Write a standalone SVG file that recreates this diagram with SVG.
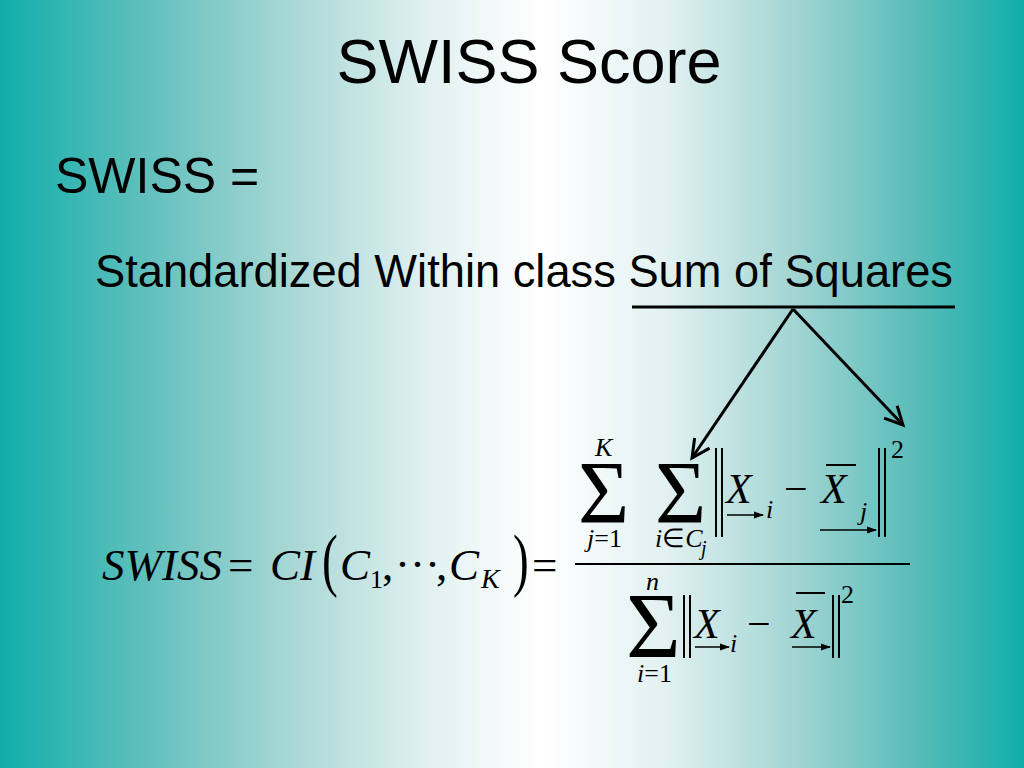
<svg xmlns="http://www.w3.org/2000/svg" width="1024" height="768" viewBox="0 0 1024 768">
<defs>
<linearGradient id="bg" x1="0" y1="0" x2="1" y2="0">
<stop offset="0" stop-color="#10aeaa"/>
<stop offset="0.14" stop-color="#5fbfbc"/>
<stop offset="0.28" stop-color="#a6d7d5"/>
<stop offset="0.42" stop-color="#e2f1f1"/>
<stop offset="0.53" stop-color="#ffffff"/>
<stop offset="0.65" stop-color="#e2f1f1"/>
<stop offset="0.78" stop-color="#a0d4d2"/>
<stop offset="0.9" stop-color="#55bbb8"/>
<stop offset="1" stop-color="#10aeaa"/>
</linearGradient>
<marker id="vhead" markerUnits="userSpaceOnUse" markerWidth="24" markerHeight="24" viewBox="0 0 24 24" refX="20" refY="12" orient="auto">
<path d="M2,3 L20,12 L2,21" fill="none" stroke="#000" stroke-width="3"/>
</marker>
<marker id="vec" markerUnits="userSpaceOnUse" markerWidth="10" markerHeight="8" viewBox="0 0 10 8" refX="9" refY="4" orient="auto">
<path d="M0,0.5 L10,4 L0,7.5 Z" fill="#000"/>
</marker>
<style>
.sans{font-family:"Liberation Sans",Arial,sans-serif;fill:#000}
.m{font-family:"Liberation Serif","Times New Roman",serif;fill:#000}
.it{font-style:italic}
.bar{stroke:#000;stroke-width:2}
.vec{stroke:#000;stroke-width:1.6;marker-end:url(#vec)}
.conn{stroke:#000;stroke-width:3;fill:none}
</style>
</defs>
<rect x="0" y="0" width="1024" height="768" fill="url(#bg)"/>

<g id="title"><text class="sans" x="529" y="83" font-size="63" text-anchor="middle">SWISS Score</text></g>
<g id="swiss-eq"><text class="sans" x="55" y="193" font-size="50">SWISS =</text></g>
<g id="expansion"><text class="sans" x="95" y="287" font-size="47" textLength="858" lengthAdjust="spacingAndGlyphs">Standardized Within class Sum of Squares</text>
<line x1="632" y1="307" x2="955" y2="307" stroke="#000" stroke-width="3"/></g>

<g id="connectors">
<line class="conn" x1="793" y1="309" x2="692" y2="458" marker-end="url(#vhead)"/>
<line class="conn" x1="793" y1="309" x2="903" y2="425" marker-end="url(#vhead)"/>
</g>

<g id="formula">
<text class="m it" x="102" y="580" font-size="45">SWISS</text>
<text class="m" x="228" y="580" font-size="45">=</text>
<text class="m it" x="270" y="580" font-size="45">CI</text>
<text class="m" font-size="45" transform="translate(322,583) scale(1.05,1.55)">(</text>
<text class="m it" x="340" y="580" font-size="45">C</text>
<text class="m" x="370" y="588" font-size="26">1</text>
<text class="m" x="382" y="580" font-size="45">,</text>
<text class="m" x="395" y="579" font-size="45">···</text>
<text class="m" x="436" y="580" font-size="45">,</text>
<text class="m it" x="449" y="580" font-size="45">C</text>
<text class="m it" x="481" y="588" font-size="28">K</text>
<text class="m" font-size="45" transform="translate(513,583) scale(1.05,1.55)">)</text>
<text class="m" x="532" y="580" font-size="45">=</text>
<line class="bar" x1="575" y1="564" x2="910" y2="564"/>

<text class="m" x="578" y="522" font-size="88">Σ</text>
<text class="m it" x="595" y="456" font-size="26">K</text>
<text class="m" x="587" y="547" font-size="26"><tspan class="it">j</tspan>=1</text>
<text class="m" x="655" y="522" font-size="88">Σ</text>
<text class="m" x="655" y="547" font-size="26"><tspan class="it">i</tspan>∈<tspan class="it">C</tspan></text>
<text class="m it" x="701" y="555" font-size="20">j</text>
<line class="bar" x1="716" y1="448" x2="716" y2="537"/>
<line class="bar" x1="722" y1="448" x2="722" y2="537"/>
<text class="m it" x="726" y="503" font-size="42">X</text>
<line class="vec" x1="727" y1="515" x2="763" y2="515"/>
<text class="m it" x="766" y="518" font-size="26">i</text>
<text class="m" x="784" y="503" font-size="42">−</text>
<text class="m it" x="821" y="503" font-size="42">X</text>
<line class="bar" x1="826" y1="465" x2="856" y2="465"/>
<text class="m it" x="860" y="520" font-size="26">j</text>
<line class="vec" x1="820" y1="530" x2="876" y2="530"/>
<line class="bar" x1="879" y1="448" x2="879" y2="537"/>
<line class="bar" x1="885" y1="448" x2="885" y2="537"/>
<text class="m" x="891" y="458" font-size="26">2</text>

<text class="m" x="626" y="657" font-size="94">Σ</text>
<text class="m it" x="646" y="590" font-size="26">n</text>
<text class="m" x="637" y="682" font-size="26"><tspan class="it">i</tspan>=1</text>
<line class="bar" x1="684" y1="595" x2="684" y2="658"/>
<line class="bar" x1="690" y1="595" x2="690" y2="658"/>
<text class="m it" x="694" y="638" font-size="42">X</text>
<line class="vec" x1="695" y1="647" x2="729" y2="647"/>
<text class="m it" x="730" y="652" font-size="26">i</text>
<text class="m" x="747" y="638" font-size="42">−</text>
<text class="m it" x="791" y="638" font-size="42">X</text>
<line class="bar" x1="796" y1="593" x2="825" y2="593"/>
<line class="vec" x1="792" y1="647" x2="830" y2="647"/>
<line class="bar" x1="833" y1="595" x2="833" y2="658"/>
<line class="bar" x1="839" y1="595" x2="839" y2="658"/>
<text class="m" x="841" y="603" font-size="26">2</text>
</g>
</svg>
